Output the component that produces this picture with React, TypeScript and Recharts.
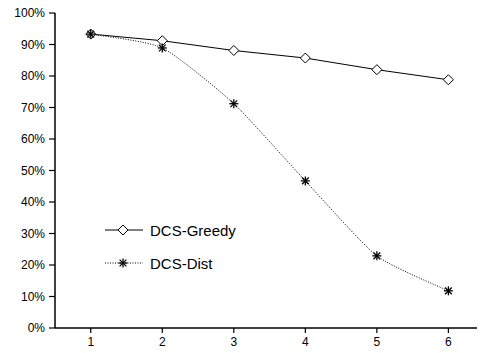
import React from "react";
import { LineChart, Line, XAxis, YAxis } from "recharts";

const categories = [1, 2, 3, 4, 5, 6];
const greedyValues = [93.3, 91.2, 88.1, 85.7, 82.0, 78.8];
const distValues = [93.3, 88.9, 71.2, 46.7, 22.9, 11.8];
const yTicks = [0, 10, 20, 30, 40, 50, 60, 70, 80, 90, 100];
const seriesNames = ["DCS-Greedy", "DCS-Dist"];

const data = categories.map((c, i) => ({ x: c, greedy: greedyValues[i], dist: distValues[i] }));

const FONT = "'Liberation Sans', Arial, sans-serif";

// Simple cardinal spline curve factory (d3-style interface)
const cardinalCurve = (tension: number) => (context: any) => {
  let pts: number[][] = [];
  const k = (1 - tension) / 6;
  return {
    areaStart() {},
    areaEnd() {},
    lineStart() {
      pts = [];
    },
    point(x: number, y: number) {
      pts.push([+x, +y]);
    },
    lineEnd() {
      const n = pts.length;
      if (!n) return;
      context.moveTo(pts[0][0], pts[0][1]);
      for (let i = 0; i < n - 1; i++) {
        const p0 = pts[i - 1] || pts[i];
        const p1 = pts[i];
        const p2 = pts[i + 1];
        const p3 = pts[i + 2] || p2;
        context.bezierCurveTo(
          p1[0] + (p2[0] - p0[0]) * k,
          p1[1] + (p2[1] - p0[1]) * k,
          p2[0] - (p3[0] - p1[0]) * k,
          p2[1] - (p3[1] - p1[1]) * k,
          p2[0],
          p2[1]
        );
      }
    },
  };
};

const Diamond = (props: any) => {
  const { cx, cy } = props;
  if (cx == null || cy == null) return null;
  const r = 5;
  return (
    <path
      d={`M${cx},${cy - r} L${cx + r},${cy} L${cx},${cy + r} L${cx - r},${cy} Z`}
      fill="#fff"
      stroke="#000"
      strokeWidth={1}
    />
  );
};

const Asterisk = (props: any) => {
  const { cx, cy } = props;
  if (cx == null || cy == null) return null;
  const r = 4.5;
  const d = r * 0.75;
  return (
    <g stroke="#000" strokeWidth={1.3}>
      <line x1={cx} y1={cy - r} x2={cx} y2={cy + r} />
      <line x1={cx - d} y1={cy - d} x2={cx + d} y2={cy + d} />
      <line x1={cx - d} y1={cy + d} x2={cx + d} y2={cy - d} />
      <line x1={cx - r} y1={cy} x2={cx + r} y2={cy} />
    </g>
  );
};

const LegendBox = () => (
  <svg width={160} height={60} style={{ position: "absolute", left: 100, top: 215 }}>
    <line x1={5} y1={15} x2={43} y2={15} stroke="#000" strokeWidth={1} />
    <Diamond cx={23} cy={15} />
    <text x={50} y={20.5} fontSize={15} fontFamily={FONT} fill="#000">{seriesNames[0]}</text>
    <line x1={5} y1={48} x2={43} y2={48} stroke="#000" strokeWidth={1} strokeDasharray="1 1.5" />
    <Asterisk cx={23} cy={48} />
    <text x={50} y={53.5} fontSize={15} fontFamily={FONT} fill="#000">{seriesNames[1]}</text>
  </svg>
);

export default function App() {
  const tickStyle = { fontSize: 12, fontFamily: FONT, fill: "#000" };
  return (
    <div style={{ position: "absolute", left: 0, top: 0, width: 480, height: 353, background: "#fff" }}>
      <LineChart width={480} height={353} data={data} margin={{ top: 13, right: 3, bottom: 0, left: 0 }}>
        <XAxis
          xAxisId="bottom"
          dataKey="x"
          type="number"
          domain={[0.5, 6.4]}
          ticks={categories}
          height={25}
          tickSize={5}
          tickMargin={4}
          tick={tickStyle}
          axisLine={{ stroke: "#000", strokeWidth: 1.5 }}
          tickLine={{ stroke: "#000", strokeWidth: 1.2 }}
        />
        <XAxis
          xAxisId="top"
          dataKey="x"
          type="number"
          orientation="top"
          mirror
          domain={[0.5, 6.4]}
          ticks={categories}
          height={0}
          tickSize={6}
          tickFormatter={() => ""}
          axisLine={{ stroke: "#000", strokeWidth: 1.5 }}
          tickLine={{ stroke: "#000", strokeWidth: 1.2 }}
        />
        <YAxis
          yAxisId="left"
          domain={[0, 100]}
          ticks={yTicks}
          width={55}
          tickSize={6}
          tickMargin={4}
          tick={tickStyle}
          tickFormatter={(v: number) => `${v}%`}
          axisLine={{ stroke: "#000", strokeWidth: 1.5 }}
          tickLine={{ stroke: "#000", strokeWidth: 1.2 }}
        />
        <YAxis
          yAxisId="right"
          orientation="right"
          mirror
          domain={[0, 100]}
          ticks={yTicks}
          width={0}
          tickSize={5}
          tickFormatter={() => ""}
          axisLine={{ stroke: "#000", strokeWidth: 1.5 }}
          tickLine={{ stroke: "#000", strokeWidth: 1.2 }}
        />
        <Line
          xAxisId="bottom"
          yAxisId="left"
          type="linear"
          dataKey="greedy"
          stroke="#000"
          strokeWidth={1}
          dot={<Diamond />}
          activeDot={false}
          isAnimationActive={false}
        />
        <Line
          xAxisId="bottom"
          yAxisId="left"
          type={cardinalCurve(0.4) as any}
          dataKey="dist"
          stroke="#000"
          strokeWidth={1}
          strokeDasharray="1 1.5"
          dot={<Asterisk />}
          activeDot={false}
          isAnimationActive={false}
        />
      </LineChart>
      <LegendBox />
    </div>
  );
}
